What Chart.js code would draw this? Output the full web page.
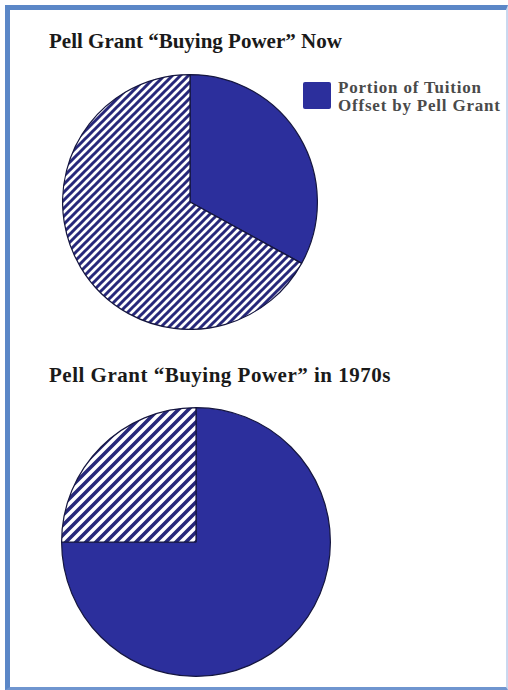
<!DOCTYPE html>
<html>
<head>
<meta charset="utf-8">
<script src="https://cdn.jsdelivr.net/npm/chart.js@4.4.1/dist/chart.umd.min.js"></script>
<style>
  html, body { margin: 0; padding: 0; background: #fff; }
  body { width: 508px; height: 690px; position: relative; overflow: hidden; }
  #frame {
    position: absolute; left: 5px; top: 5px; width: 496px; height: 677px;
    border-left: 5px solid #5b87c7; border-top: 5px solid #5b87c7;
    border-bottom: 3px solid #6f95cf; border-right: 2px solid #c9d8ef;
  }
  .title {
    position: absolute; left: 49px; white-space: nowrap;
    font: bold 21px "Liberation Serif", serif; line-height: 21px; color: #1a1a1a;
  }
  #titleThen { letter-spacing: 0.5px; }
  #legend { position: absolute; left: 303px; top: 82px; }
  .swatch { position: absolute; left: 0; top: 0; width: 28px; height: 27px; border-radius: 2px; }
  .legendText {
    position: absolute; left: 35px; top: -3px; white-space: nowrap; letter-spacing: 0.8px;
    font: bold 17px "Liberation Serif", serif; line-height: 18px; color: #4a4a4a;
  }
  canvas { position: absolute; }
</style>
</head>
<body>
<div id="frame"></div>
<div class="title" id="titleNow" style="top:31px"></div>
<div id="legend"></div>
<canvas id="pieNow" width="256" height="256" style="left:62px; top:74px"></canvas>
<div class="title" id="titleThen" style="top:365px"></div>
<canvas id="pieThen" width="270" height="270" style="left:61px; top:407px"></canvas>
<script>
// Slice shares, in percent of tuition
const sliceLabels = ['Portion of Tuition Offset by Pell Grant', 'Remaining Tuition'];
const nowShares = [33, 67];
const seventiesShares = [75, 25];
const chartTitles = ['Pell Grant \u201cBuying Power\u201d Now', 'Pell Grant \u201cBuying Power\u201d in 1970s'];

const grantBlue = '#2c2f9c';
const stripeNavy = '#27287a';

// diagonal "/" stripes on white, tile repeats every `step` px
function makeHatch(step, lineW) {
    const c = document.createElement('canvas');
    c.width = step;
    c.height = step;
    const g = c.getContext('2d');
    g.fillStyle = '#fff';
    g.fillRect(0, 0, step, step);
    g.strokeStyle = stripeNavy;
    g.lineWidth = lineW;
    g.beginPath();
    // lines x + y = 0, step, 2*step
    for (let k = 0; k <= 2; k++) {
        g.moveTo(-step, k * step + step);
        g.lineTo(k * step + step, -step);
    }
    g.stroke();
    return g.createPattern(c, 'repeat');
}

function makePie(id, shares, hatch) {
    const ctx = document.getElementById(id).getContext('2d');
    return new Chart(ctx, {
        type: 'pie',
        data: {
            labels: sliceLabels,
            datasets: [{
                data: shares,
                backgroundColor: [grantBlue, hatch],
                borderColor: '#15163f',
                borderWidth: 1.2,
            }],
        },
        options: {
            responsive: false,
            animation: false,
            layout: { padding: 0 },
            plugins: {
                legend: { display: false },
                tooltip: { enabled: false },
            },
        },
    });
}

document.getElementById('titleNow').textContent = chartTitles[0];
document.getElementById('titleThen').textContent = chartTitles[1];

// legend only lists the grant slice
const legend = document.getElementById('legend');
const sw = document.createElement('div');
sw.className = 'swatch';
sw.style.background = grantBlue;
legend.appendChild(sw);
const lt = document.createElement('div');
lt.className = 'legendText';
lt.innerHTML = 'Portion of Tuition<br>Offset by Pell Grant';
legend.appendChild(lt);

makePie('pieNow', nowShares, makeHatch(8, 3));
makePie('pieThen', seventiesShares, makeHatch(10, 3.6));
</script>
</body>
</html>
